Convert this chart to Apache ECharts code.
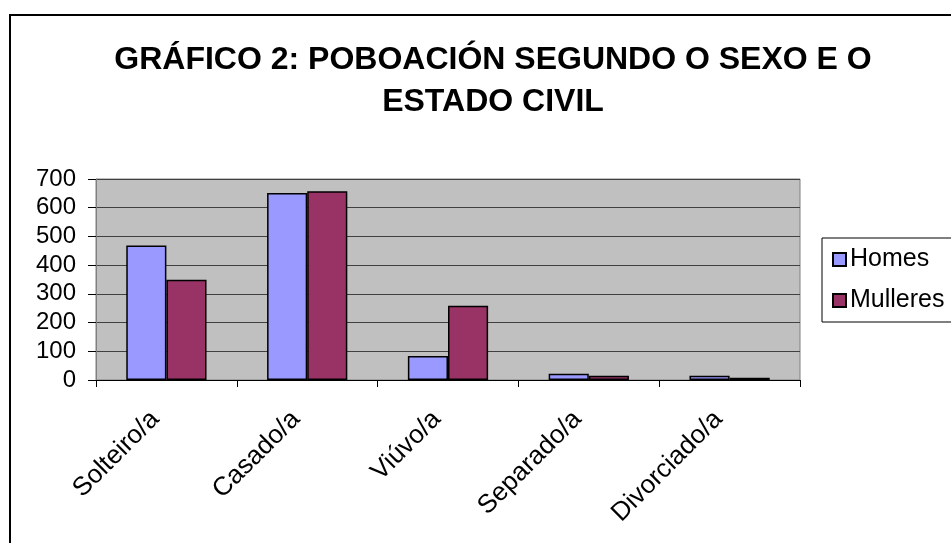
<!DOCTYPE html>
<html>
<head>
<meta charset="utf-8">
<script src="https://cdn.jsdelivr.net/npm/echarts@6/dist/echarts.min.js"></script>
<style>
  html, body { margin: 0; padding: 0; background: #fff; }
  #main { width: 951px; height: 543px; }
</style>
</head>
<body>
<div id="main"></div>
<script>
// datos
var categorias = ['Solteiro/a', 'Casado/a', 'Viúvo/a', 'Separado/a', 'Divorciado/a']
var homes = [468, 651, 84, 22, 15]
var mulleres = [349, 657, 259, 15, 8]
var yTicks = { min: 0, max: 700, interval: 100 }

var font = 'Liberation Sans, Arial, sans-serif'
var chart = echarts.init(document.getElementById('main'))

chart.setOption({
  animation: false,
  backgroundColor: '#fff',
  title: {
    text: 'GRÁFICO 2: POBOACIÓN SEGUNDO O SEXO E O\nESTADO CIVIL',
    left: 488,
    textAlign: 'center',
    top: 34,
    textStyle: {
      fontFamily: font,
      fontSize: 32,
      fontWeight: 'bold',
      color: '#000',
      lineHeight: 42
    }
  },
  // marco exterior do gráfico
  graphic: [
    {
      type: 'rect',
      shape: { x: 10, y: 15, width: 1000, height: 600 },
      style: { fill: 'none', stroke: '#000', lineWidth: 2 },
      silent: true
    }
  ],
  legend: {
    orient: 'vertical',
    left: 822,
    top: 238,
    padding: [9, 40, 9, 10],
    itemGap: 16,
    itemWidth: 13,
    itemHeight: 13,
    borderColor: '#000',
    borderWidth: 1,
    icon: 'rect',
    textStyle: { fontFamily: font, fontSize: 25, color: '#000', padding: [0, 0, 0, -1] },
    data: ['Homes', 'Mulleres']
  },
  grid: {
    left: 96,
    right: 151,
    top: 179,
    bottom: 163,
    show: true,
    backgroundColor: '#C0C0C0',
    borderColor: '#808080',
    borderWidth: 1
  },
  xAxis: {
    type: 'category',
    data: categorias,
    axisLine: { lineStyle: { color: '#000', width: 1 } },
    axisTick: { show: true, alignWithLabel: false, length: 7, lineStyle: { color: '#000' } },
    axisLabel: {
      rotate: 45,
      margin: 24,
      padding: [0, 16, 0, 0],
      fontFamily: font,
      fontSize: 26,
      color: '#000'
    }
  },
  yAxis: {
    type: 'value',
    min: yTicks.min,
    max: yTicks.max,
    interval: yTicks.interval,
    axisLine: { show: true, lineStyle: { color: '#808080' } },
    axisTick: { show: true, inside: false, length: 8, lineStyle: { color: '#000' } },
    axisLabel: { fontFamily: font, fontSize: 24, color: '#000', margin: 20 },
    splitLine: { show: true, lineStyle: { color: '#404040', width: 1 } }
  },
  series: [
    {
      name: 'Homes',
      type: 'bar',
      data: homes,
      barGap: '0%',
      barCategoryGap: '43%',
      itemStyle: { color: '#9999FF', borderColor: '#000', borderWidth: 1.5 }
    },
    {
      name: 'Mulleres',
      type: 'bar',
      data: mulleres,
      itemStyle: { color: '#993366', borderColor: '#000', borderWidth: 1.5 }
    }
  ]
})
</script>
</body>
</html>
